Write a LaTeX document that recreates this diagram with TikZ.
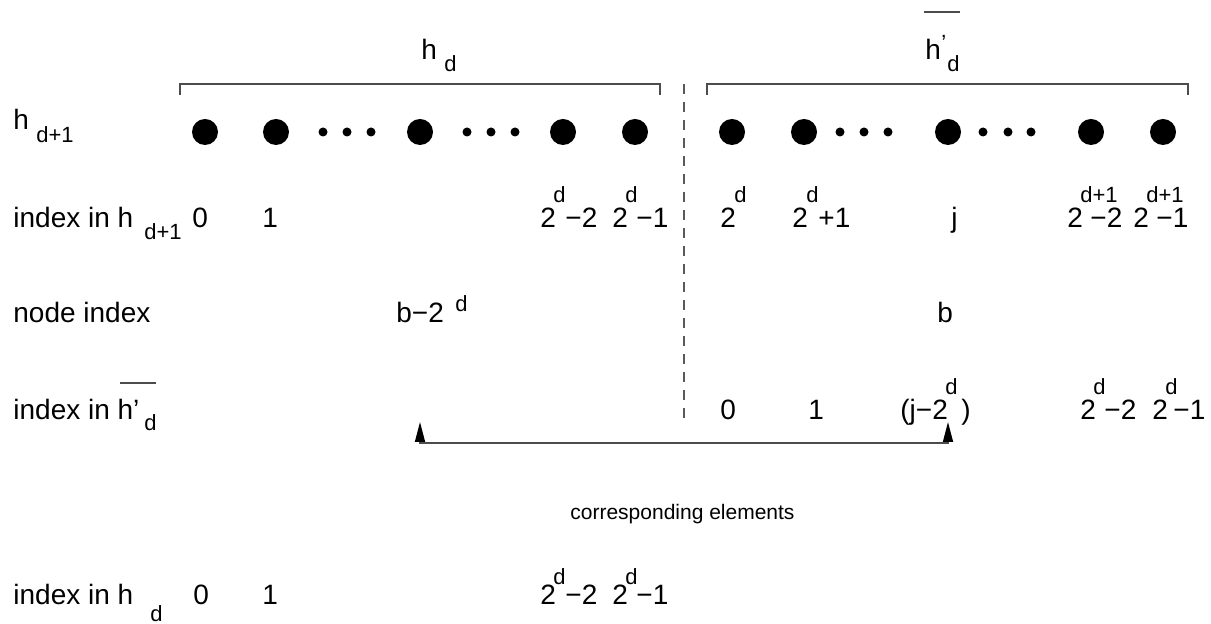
\documentclass[tikz,border=0pt]{standalone}
\usepackage{fontspec}
\setmainfont{Liberation Sans}
\usetikzlibrary{arrows.meta}
\begin{document}
\begin{tikzpicture}[x=0.5pt,y=-0.5pt,
  txt/.style={font=\fontsize{14}{16}\selectfont, inner sep=0pt, anchor=base west},
  sml/.style={font=\fontsize{11}{13}\selectfont, inner sep=0pt, anchor=base west},
  captxt/.style={font=\fontsize{10.5}{12}\selectfont, inner sep=0pt, anchor=base west},
  bigdot/.style={circle, fill=black, minimum size=13pt, inner sep=0pt},
  smalldot/.style={circle, fill=black, minimum size=4.5pt, inner sep=0pt},
  bracketline/.style={draw=black!70, line width=0.75pt},
  sepline/.style={draw=black!65, line width=0.75pt, dash pattern=on 5pt off 4pt},
  barline/.style={draw=black!70, line width=0.75pt},
  corr/.style={draw=black!70, line width=0.75pt, {Triangle[length=10pt,width=5pt,black]}-{Triangle[length=10pt,width=5pt,black]}}
]
\useasboundingbox (0,0) rectangle (1211,624);

% brackets
\draw[bracketline] (180,95) -- (180,84) -- (660,84) -- (660,95);
\draw[bracketline] (707,95) -- (707,84) -- (1188,84) -- (1188,95);
% separator
\draw[sepline] (684,84) -- (684,420);

% bracket labels
\node[txt] (hdh) at (421,60) {h};
\node[sml] (hdd) at (444,72) {d};
\draw[barline] (924,12) -- (960,12);
\node[txt] (hph) at (925,60) {h};
\node[sml] (hpp) at (941,51) {’};
\node[sml] (hpd) at (947,72) {d};

% row of dots
\node[txt] (rh) at (13,130) {h};
\node[sml] (rhs) at (36,143) {d+1};
\foreach \n/\x in {b1/205,b2/276,b3/420,b4/563,b5/635,b6/732,b7/804,b8/948,b9/1091,b10/1163}
  \node[bigdot] (\n) at (\x,132) {};
\foreach \n/\x in {s1/323,s2/347,s3/371,s4/467,s5/491,s6/515,s7/840,s8/864,s9/888,s10/983,s11/1008,s12/1031}
  \node[smalldot] (\n) at (\x,132) {};

% index in h_{d+1}
\node[txt] (a1) at (13,228) {index in h};
\node[sml] (a1s) at (144,240) {d+1};
\node[txt] (a2) at (192,228) {0};
\node[txt] (a3) at (262,228) {1};
\node[txt] (a4) at (540,228) {2};
\node[sml] (a4s) at (553,203) {d};
\node[txt] (a4m) at (565,228) {−2};
\node[txt] (a5) at (612,228) {2};
\node[sml] (a5s) at (625,203) {d};
\node[txt] (a5m) at (636,228) {−1};
\node[txt] (a6) at (720,228) {2};
\node[sml] (a6s) at (734,203) {d};
\node[txt] (a7) at (792,228) {2};
\node[sml] (a7s) at (806,203) {d};
\node[txt] (a7m) at (818,228) {+1};
\node[txt] (a8) at (951,228) {j};
\node[txt] (a9) at (1067,228) {2};
\node[sml] (a9s) at (1080,203) {d+1};
\node[txt] (a9m) at (1090,228) {−2};
\node[txt] (a10) at (1133,228) {2};
\node[sml] (a10s) at (1146,203) {d+1};
\node[txt] (a10m) at (1156,228) {−1};

% node index
\node[txt] (n1) at (13,323) {node index};
\node[txt] (n2) at (396,323) {b−2};
\node[sml] (n2s) at (455,312) {d};
\node[txt] (n3) at (937,323) {b};

% index in h'_d
\node[txt] (c1) at (13,420) {index in h’};
\node[sml] (c1s) at (144,431) {d};
\draw[barline] (120,383) -- (156,383);
\node[txt] (c2) at (720,420) {0};
\node[txt] (c3) at (808,420) {1};
\node[txt] (c4) at (900,420) {(j−2};
\node[sml] (c4s) at (945,395) {d};
\node[txt] (c4p) at (961,420) {)};
\node[txt] (c5) at (1080,420) {2};
\node[sml] (c5s) at (1093,395) {d};
\node[txt] (c5m) at (1104,420) {−2};
\node[txt] (c6) at (1152,420) {2};
\node[sml] (c6s) at (1165,395) {d};
\node[txt] (c6m) at (1173,420) {−1};

% corresponding arrow
\coordinate (tipL) at (420,422);
\coordinate (tipR) at (948,422);
\coordinate (baseL) at (420,443);
\coordinate (baseR) at (948,443);
\draw[corr] (tipL) -- (baseL) -- (baseR) -- (tipR);
\node[captxt] (corrlbl) at (570,520) {corresponding elements};

% index in h_d
\node[txt] (e1) at (13,605) {index in h};
\node[sml] (e1s) at (150,622) {d};
\node[txt] (e2) at (193,605) {0};
\node[txt] (e3) at (262,605) {1};
\node[txt] (e4) at (540,605) {2};
\node[sml] (e4s) at (553,585) {d};
\node[txt] (e4m) at (565,605) {−2};
\node[txt] (e5) at (612,605) {2};
\node[sml] (e5s) at (625,585) {d};
\node[txt] (e5m) at (636,605) {−1};
\end{tikzpicture}
\end{document}
